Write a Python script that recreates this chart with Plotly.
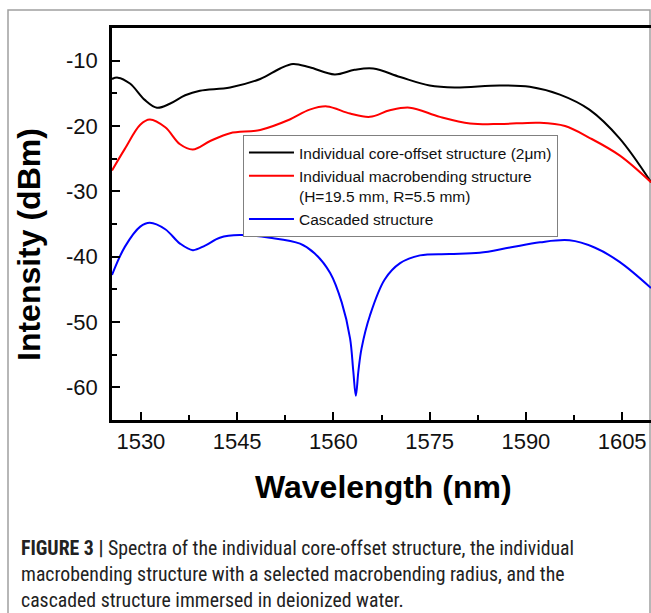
import plotly.graph_objects as go

# Wavelength (nm) / intensity (dBm)
core_wl = [1525.5, 1526.4, 1528.3, 1530.6, 1532.5, 1534.5, 1536.9, 1539.2, 1543.9, 1548.6,
           1551.7, 1553.7, 1556.3, 1560.2, 1563.3, 1566.2, 1570.4, 1575.0, 1578.9, 1585.9,
           1590.6, 1595.3, 1599.9, 1604.6, 1609.5]
core_db = [-12.8, -12.6, -13.5, -16.0, -17.2, -16.6, -15.3, -14.6, -14.1, -12.8,
           -11.2, -10.5, -11.0, -12.1, -11.4, -11.2, -12.5, -13.8, -14.1, -13.8,
           -14.0, -15.2, -17.5, -21.9, -28.6]

macro_wl = [1525.5, 1527.5, 1529.9, 1531.4, 1533.8, 1536.1, 1538.1, 1540.8, 1543.9, 1548.6,
            1553.2, 1556.3, 1559.0, 1562.6, 1565.7, 1568.8, 1571.9, 1576.6, 1581.3, 1585.9,
            1592.2, 1596.1, 1599.9, 1604.6, 1609.5]
macro_db = [-26.8, -23.5, -19.8, -19.0, -20.2, -22.8, -23.6, -22.3, -21.1, -20.6,
            -19.0, -17.5, -17.0, -18.1, -18.6, -17.6, -17.2, -18.6, -19.6, -19.7,
            -19.5, -20.0, -21.8, -24.5, -28.6]

casc_wl = [1525.5, 1527.5, 1529.9, 1531.4, 1533.8, 1536.1, 1538.1, 1540.0, 1542.3, 1545.4,
           1550.1, 1554.8, 1557.1, 1559.5, 1561.3, 1562.6, 1563.1, 1563.5, 1563.9, 1564.4,
           1565.7, 1568.0, 1570.4, 1573.5, 1578.1, 1582.8, 1587.5, 1592.2, 1596.8, 1600.7,
           1604.6, 1609.5]
casc_db = [-42.8, -38.5, -35.4, -34.8, -35.8, -38.0, -39.0, -38.3, -37.1, -36.7,
           -37.1, -38.0, -39.5, -42.5, -47.0, -52.5, -57.5, -61.3, -57.5, -54.0,
           -49.0, -43.5, -41.0, -39.8, -39.6, -39.4, -38.6, -37.8, -37.5, -38.6,
           -40.8, -44.8]

names = ["Individual core-offset structure (2\u03bcm)",
         "Individual macrobending structure<br>(H=19.5 mm, R=5.5 mm)",
         "Cascaded structure"]
colors = ["#000000", "#ff0000", "#0000ff"]

x_ticks = [1530, 1545, 1560, 1575, 1590, 1605]
x_tick_labels = ["1530", "1545", "1560", "1575", "1590", "1605"]
y_ticks = [-10, -20, -30, -40, -50, -60]
y_tick_labels = ["-10", "-20", "-30", "-40", "-50", "-60"]

caption_lines = [
    "<b>FIGURE 3 |</b> Spectra of the individual core-offset structure, the individual",
    "macrobending structure with a selected macrobending radius, and the",
    "cascaded structure immersed in deionized water.",
]

fig = go.Figure()
for wl, db, nm, c in zip([core_wl, macro_wl, casc_wl], [core_db, macro_db, casc_db], names, colors):
    fig.add_trace(go.Scatter(x=wl, y=db, name=nm, mode="lines",
                             line=dict(color=c, width=2, shape="spline", smoothing=1.0)))

font_main = "Liberation Sans, Arial, sans-serif"

fig.update_layout(
    width=651, height=613,
    margin=dict(l=112, r=0, t=28, b=193),
    paper_bgcolor="white", plot_bgcolor="white",
    showlegend=True,
    legend=dict(x=0.243, y=0.727, xanchor="left", yanchor="top",
                bgcolor="white", bordercolor="#808080", borderwidth=1,
                font=dict(family=font_main, size=15.5, color="#111"),
                valign="top", itemwidth=45, tracegroupgap=0),
    xaxis=dict(range=[1525.5, 1609.5], tickvals=x_ticks, ticktext=x_tick_labels,
               ticks="inside", ticklen=8, ticklabelstandoff=0,
               tickwidth=2, tickcolor="black", showline=True, linecolor="black",
               linewidth=2.5, mirror=True, showgrid=False, zeroline=False,
               tickfont=dict(family=font_main, size=22, color="#111"),
               minor=dict(dtick=7.5, tick0=1530, ticks="inside", ticklen=5,
                          tickwidth=2, tickcolor="black", showgrid=False)),
    yaxis=dict(range=[-65, -5], tickvals=y_ticks, ticktext=y_tick_labels,
               ticks="inside", ticklen=8, ticklabelstandoff=7,
               tickwidth=2, tickcolor="black", showline=True, linecolor="black",
               linewidth=2.5, mirror=False, showgrid=False, zeroline=False,
               tickfont=dict(family=font_main, size=22, color="#111"),
               minor=dict(dtick=5, tick0=-5, ticks="inside", ticklen=5,
                          tickwidth=2, tickcolor="black", showgrid=False)),
)

# axis titles
fig.add_annotation(text="<b>Wavelength (nm)</b>", xref="paper", yref="paper",
                   x=(383 - 112) / 539, y=(420 - 487) / 392, xanchor="center", yanchor="middle",
                   showarrow=False, font=dict(family=font_main, size=32, color="black"))
fig.add_annotation(text="<b>Intensity (dBm)</b>", xref="paper", yref="paper",
                   x=(29 - 112) / 539, y=(420 - 245) / 392, xanchor="center", yanchor="middle",
                   textangle=-90, showarrow=False,
                   font=dict(family=font_main, size=32, color="black"))

# caption
for i, line in enumerate(caption_lines):
    fig.add_annotation(text=line, xref="paper", yref="paper",
                       x=(19 - 112) / 539, y=(420 - (548 + 26 * i)) / 392,
                       xanchor="left", yanchor="middle", showarrow=False, align="left",
                       font=dict(family="Roboto Condensed, Liberation Sans, sans-serif",
                                 size=19.8, color="#222"))

# outer frame
fig.add_shape(type="rect", xref="paper", yref="paper",
              x0=(8 - 112) / 539, x1=(650 - 112) / 539,
              y0=(420 - 640) / 392, y1=(420 - 10) / 392,
              line=dict(color="#a0a0a0", width=1.5), layer="below")

fig.write_html("out.html", config={"displayModeBar": False},
               post_script="document.body.style.margin='0';document.body.style.overflow='hidden';")
